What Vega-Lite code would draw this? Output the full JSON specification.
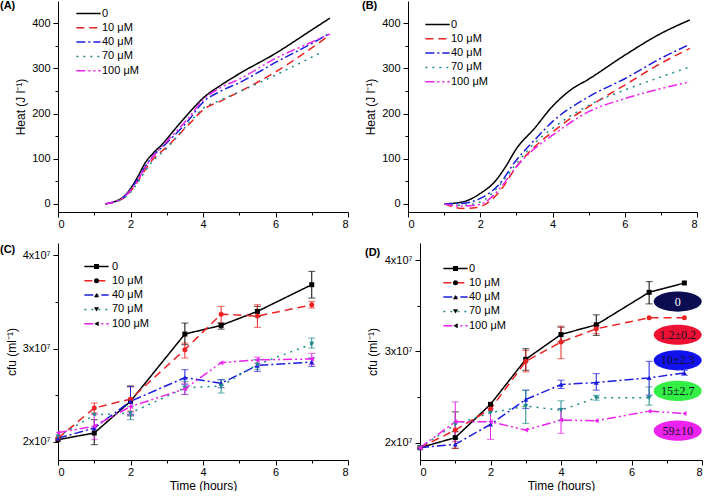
{
  "$schema": "https://vega.github.io/schema/vega-lite/v6.json",
  "padding": 0,
  "background": "white",
  "datasets": {
    "heatA": [
      {"t":1.3,"heat":0,"c":"0"},{"t":1.8,"heat":15,"c":"0"},{"t":2.0,"heat":34,"c":"0"},{"t":2.2,"heat":60,"c":"0"},{"t":2.4,"heat":90,"c":"0"},{"t":2.6,"heat":110,"c":"0"},{"t":2.9,"heat":134,"c":"0"},{"t":3.2,"heat":163,"c":"0"},{"t":3.6,"heat":200,"c":"0"},{"t":4.0,"heat":234,"c":"0"},{"t":4.5,"heat":263,"c":"0"},{"t":5.0,"heat":288,"c":"0"},{"t":6.0,"heat":333,"c":"0"},{"t":7.0,"heat":385,"c":"0"},{"t":7.5,"heat":411,"c":"0"},
      {"t":1.3,"heat":0,"c":"10 μM"},{"t":1.8,"heat":12,"c":"10 μM"},{"t":2.0,"heat":28,"c":"10 μM"},{"t":2.2,"heat":50,"c":"10 μM"},{"t":2.4,"heat":75,"c":"10 μM"},{"t":2.6,"heat":97,"c":"10 μM"},{"t":3.0,"heat":126,"c":"10 μM"},{"t":3.6,"heat":175,"c":"10 μM"},{"t":4.0,"heat":208,"c":"10 μM"},{"t":4.5,"heat":228,"c":"10 μM"},{"t":5.0,"heat":248,"c":"10 μM"},{"t":6.0,"heat":292,"c":"10 μM"},{"t":7.0,"heat":345,"c":"10 μM"},{"t":7.4,"heat":368,"c":"10 μM"},
      {"t":1.3,"heat":0,"c":"40 μM"},{"t":1.8,"heat":14,"c":"40 μM"},{"t":2.0,"heat":32,"c":"40 μM"},{"t":2.2,"heat":55,"c":"40 μM"},{"t":2.4,"heat":82,"c":"40 μM"},{"t":2.6,"heat":104,"c":"40 μM"},{"t":3.0,"heat":135,"c":"40 μM"},{"t":3.6,"heat":185,"c":"40 μM"},{"t":4.0,"heat":225,"c":"40 μM"},{"t":4.5,"heat":250,"c":"40 μM"},{"t":5.0,"heat":268,"c":"40 μM"},{"t":6.0,"heat":313,"c":"40 μM"},{"t":7.0,"heat":355,"c":"40 μM"},{"t":7.5,"heat":378,"c":"40 μM"},
      {"t":1.3,"heat":0,"c":"70 μM"},{"t":1.8,"heat":12,"c":"70 μM"},{"t":2.0,"heat":26,"c":"70 μM"},{"t":2.2,"heat":47,"c":"70 μM"},{"t":2.4,"heat":72,"c":"70 μM"},{"t":2.6,"heat":93,"c":"70 μM"},{"t":3.0,"heat":123,"c":"70 μM"},{"t":3.6,"heat":178,"c":"70 μM"},{"t":4.0,"heat":211,"c":"70 μM"},{"t":4.5,"heat":230,"c":"70 μM"},{"t":5.0,"heat":248,"c":"70 μM"},{"t":6.0,"heat":285,"c":"70 μM"},{"t":7.3,"heat":337,"c":"70 μM"},
      {"t":1.3,"heat":0,"c":"100 μM"},{"t":1.8,"heat":14,"c":"100 μM"},{"t":2.0,"heat":30,"c":"100 μM"},{"t":2.2,"heat":52,"c":"100 μM"},{"t":2.4,"heat":80,"c":"100 μM"},{"t":2.6,"heat":103,"c":"100 μM"},{"t":3.0,"heat":138,"c":"100 μM"},{"t":3.6,"heat":190,"c":"100 μM"},{"t":4.0,"heat":230,"c":"100 μM"},{"t":4.5,"heat":258,"c":"100 μM"},{"t":5.0,"heat":276,"c":"100 μM"},{"t":6.0,"heat":322,"c":"100 μM"},{"t":7.0,"heat":358,"c":"100 μM"},{"t":7.5,"heat":376,"c":"100 μM"}
    ],
    "heatB": [
      {"t":1.0,"heat":0,"c":"0"},{"t":1.5,"heat":4,"c":"0"},{"t":2.0,"heat":23,"c":"0"},{"t":2.4,"heat":49,"c":"0"},{"t":2.7,"heat":82,"c":"0"},{"t":3.0,"heat":122,"c":"0"},{"t":3.5,"heat":167,"c":"0"},{"t":4.0,"heat":216,"c":"0"},{"t":4.5,"heat":252,"c":"0"},{"t":5.0,"heat":276,"c":"0"},{"t":6.0,"heat":329,"c":"0"},{"t":7.0,"heat":377,"c":"0"},{"t":7.8,"heat":407,"c":"0"},
      {"t":1.0,"heat":0,"c":"10 μM"},{"t":1.5,"heat":-10,"c":"10 μM"},{"t":1.9,"heat":-8,"c":"10 μM"},{"t":2.3,"heat":8,"c":"10 μM"},{"t":2.6,"heat":34,"c":"10 μM"},{"t":3.0,"heat":82,"c":"10 μM"},{"t":3.5,"heat":126,"c":"10 μM"},{"t":4.0,"heat":159,"c":"10 μM"},{"t":4.5,"heat":189,"c":"10 μM"},{"t":5.0,"heat":215,"c":"10 μM"},{"t":6.0,"heat":263,"c":"10 μM"},{"t":7.0,"heat":311,"c":"10 μM"},{"t":7.8,"heat":344,"c":"10 μM"},
      {"t":1.0,"heat":0,"c":"40 μM"},{"t":1.5,"heat":1,"c":"40 μM"},{"t":2.0,"heat":12,"c":"40 μM"},{"t":2.5,"heat":41,"c":"40 μM"},{"t":3.0,"heat":97,"c":"40 μM"},{"t":3.5,"heat":141,"c":"40 μM"},{"t":4.0,"heat":182,"c":"40 μM"},{"t":5.0,"heat":237,"c":"40 μM"},{"t":6.0,"heat":277,"c":"40 μM"},{"t":7.0,"heat":322,"c":"40 μM"},{"t":7.8,"heat":353,"c":"40 μM"},
      {"t":1.0,"heat":0,"c":"70 μM"},{"t":1.5,"heat":-3,"c":"70 μM"},{"t":2.0,"heat":4,"c":"70 μM"},{"t":2.5,"heat":38,"c":"70 μM"},{"t":3.0,"heat":89,"c":"70 μM"},{"t":3.5,"heat":134,"c":"70 μM"},{"t":4.0,"heat":167,"c":"70 μM"},{"t":5.0,"heat":218,"c":"70 μM"},{"t":6.0,"heat":252,"c":"70 μM"},{"t":7.0,"heat":281,"c":"70 μM"},{"t":7.8,"heat":303,"c":"70 μM"},
      {"t":1.0,"heat":0,"c":"100 μM"},{"t":1.5,"heat":-5,"c":"100 μM"},{"t":2.0,"heat":-1,"c":"100 μM"},{"t":2.5,"heat":30,"c":"100 μM"},{"t":3.0,"heat":82,"c":"100 μM"},{"t":3.5,"heat":122,"c":"100 μM"},{"t":4.0,"heat":152,"c":"100 μM"},{"t":5.0,"heat":204,"c":"100 μM"},{"t":6.0,"heat":233,"c":"100 μM"},{"t":7.0,"heat":255,"c":"100 μM"},{"t":7.8,"heat":270,"c":"100 μM"}
    ],
    "cfuC": [
      {"t":0,"cfu":2.025e7,"c":"0"},{"t":1,"cfu":2.096e7,"lo":1.971e7,"hi":2.239e7,"c":"0"},{"t":2,"cfu":2.436e7,"lo":2.28e7,"hi":2.6e7,"c":"0"},{"t":3.5,"cfu":3.157e7,"lo":3.043e7,"hi":3.275e7,"c":"0"},{"t":4.5,"cfu":3.25e7,"lo":3.21e7,"hi":3.275e7,"c":"0"},{"t":5.5,"cfu":3.4e7,"lo":3.346e7,"hi":3.454e7,"c":"0"},{"t":7,"cfu":3.686e7,"lo":3.543e7,"hi":3.829e7,"c":"0"},
      {"t":0,"cfu":2.04e7,"c":"10 μM"},{"t":1,"cfu":2.364e7,"lo":2.311e7,"hi":2.418e7,"c":"10 μM"},{"t":2,"cfu":2.46e7,"lo":2.33e7,"hi":2.59e7,"c":"10 μM"},{"t":3.5,"cfu":2.99e7,"lo":2.9e7,"hi":3.06e7,"c":"10 μM"},{"t":4.5,"cfu":3.37e7,"lo":3.275e7,"hi":3.454e7,"c":"10 μM"},{"t":5.5,"cfu":3.35e7,"lo":3.229e7,"hi":3.471e7,"c":"10 μM"},{"t":7,"cfu":3.47e7,"lo":3.436e7,"hi":3.507e7,"c":"10 μM"},
      {"t":0,"cfu":2.04e7,"c":"40 μM"},{"t":1,"cfu":2.15e7,"c":"40 μM"},{"t":2,"cfu":2.436e7,"lo":2.293e7,"hi":2.596e7,"c":"40 μM"},{"t":3.5,"cfu":2.69e7,"lo":2.614e7,"hi":2.775e7,"c":"40 μM"},{"t":4.5,"cfu":2.63e7,"lo":2.582e7,"hi":2.668e7,"c":"40 μM"},{"t":5.5,"cfu":2.82e7,"lo":2.757e7,"hi":2.882e7,"c":"40 μM"},{"t":7,"cfu":2.857e7,"lo":2.81e7,"hi":2.9e7,"c":"40 μM"},
      {"t":0,"cfu":2.06e7,"c":"70 μM"},{"t":1,"cfu":2.29e7,"c":"70 μM"},{"t":2,"cfu":2.31e7,"lo":2.239e7,"hi":2.382e7,"c":"70 μM"},{"t":3.5,"cfu":2.58e7,"lo":2.51e7,"hi":2.65e7,"c":"70 μM"},{"t":4.5,"cfu":2.6e7,"lo":2.525e7,"hi":2.667e7,"c":"70 μM"},{"t":5.5,"cfu":2.83e7,"lo":2.78e7,"hi":2.88e7,"c":"70 μM"},{"t":7,"cfu":3.05e7,"lo":3.007e7,"hi":3.114e7,"c":"70 μM"},
      {"t":0,"cfu":2.1e7,"c":"100 μM"},{"t":1,"cfu":2.17e7,"lo":2.025e7,"hi":2.293e7,"c":"100 μM"},{"t":2,"cfu":2.38e7,"lo":2.31e7,"hi":2.45e7,"c":"100 μM"},{"t":3.5,"cfu":2.57e7,"lo":2.51e7,"hi":2.63e7,"c":"100 μM"},{"t":4.5,"cfu":2.85e7,"c":"100 μM"},{"t":5.5,"cfu":2.88e7,"lo":2.84e7,"hi":2.91e7,"c":"100 μM"},{"t":7,"cfu":2.89e7,"lo":2.83e7,"hi":2.95e7,"c":"100 μM"}
    ],
    "cfuD": [
      {"t":0,"cfu":1.945e7,"c":"0"},{"t":1,"cfu":2.055e7,"lo":1.938e7,"hi":2.12e7,"c":"0"},{"t":2,"cfu":2.42e7,"c":"0"},{"t":3,"cfu":2.913e7,"lo":2.793e7,"hi":3.029e7,"c":"0"},{"t":4,"cfu":3.185e7,"lo":3.102e7,"hi":3.265e7,"c":"0"},{"t":5,"cfu":3.291e7,"lo":3.175e7,"hi":3.4e7,"c":"0"},{"t":6.5,"cfu":3.647e7,"lo":3.52e7,"hi":3.764e7,"c":"0"},{"t":7.5,"cfu":3.749e7,"c":"0"},
      {"t":0,"cfu":1.945e7,"c":"10 μM"},{"t":1,"cfu":2.138e7,"lo":1.938e7,"hi":2.338e7,"c":"10 μM"},{"t":2,"cfu":2.367e7,"c":"10 μM"},{"t":3,"cfu":2.891e7,"lo":2.775e7,"hi":3.011e7,"c":"10 μM"},{"t":4,"cfu":3.102e7,"lo":2.92e7,"hi":3.276e7,"c":"10 μM"},{"t":5,"cfu":3.247e7,"lo":3.193e7,"hi":3.284e7,"c":"10 μM"},{"t":6.5,"cfu":3.367e7,"c":"10 μM"},{"t":7.5,"cfu":3.367e7,"c":"10 μM"},
      {"t":0,"cfu":1.945e7,"c":"40 μM"},{"t":1,"cfu":1.982e7,"c":"40 μM"},{"t":2,"cfu":2.2e7,"c":"40 μM"},{"t":3,"cfu":2.473e7,"lo":2.375e7,"hi":2.575e7,"c":"40 μM"},{"t":4,"cfu":2.636e7,"lo":2.593e7,"hi":2.684e7,"c":"40 μM"},{"t":5,"cfu":2.658e7,"lo":2.575e7,"hi":2.756e7,"c":"40 μM"},{"t":6.5,"cfu":2.709e7,"lo":2.52e7,"hi":2.891e7,"c":"40 μM"},{"t":7.5,"cfu":2.764e7,"lo":2.738e7,"hi":2.793e7,"c":"40 μM"},
      {"t":0,"cfu":1.945e7,"c":"70 μM"},{"t":1,"cfu":2.2e7,"lo":2.047e7,"hi":2.338e7,"c":"70 μM"},{"t":2,"cfu":2.327e7,"c":"70 μM"},{"t":3,"cfu":2.4e7,"lo":2.211e7,"hi":2.575e7,"c":"70 μM"},{"t":4,"cfu":2.356e7,"lo":2.247e7,"hi":2.458e7,"c":"70 μM"},{"t":5,"cfu":2.491e7,"lo":2.465e7,"hi":2.52e7,"c":"70 μM"},{"t":6.5,"cfu":2.491e7,"lo":2.411e7,"hi":2.611e7,"c":"70 μM"},
      {"t":0,"cfu":1.945e7,"c":"100 μM"},{"t":1,"cfu":2.229e7,"lo":2.011e7,"hi":2.447e7,"c":"100 μM"},{"t":2,"cfu":2.229e7,"lo":2.036e7,"hi":2.375e7,"c":"100 μM"},{"t":3,"cfu":2.138e7,"c":"100 μM"},{"t":4,"cfu":2.247e7,"lo":2.102e7,"hi":2.375e7,"c":"100 μM"},{"t":5,"cfu":2.24e7,"c":"100 μM"},{"t":6.5,"cfu":2.345e7,"c":"100 μM"},{"t":7.5,"cfu":2.32e7,"c":"100 μM"}
    ],
    "ell": [
      {"t":7.31,"cfu":3.545e7,"label":"0"},
      {"t":7.31,"cfu":3.182e7,"label":"1.2±0.2"},
      {"t":7.31,"cfu":2.902e7,"label":"10±2.3"},
      {"t":7.31,"cfu":2.567e7,"label":"15±2.7"},
      {"t":7.31,"cfu":2.131e7,"label":"59±10"}
    ]
  },
  "resolve": {"scale": {"color": "independent", "strokeDash": "independent", "fill": "independent", "shape": "independent"}},
  "vconcat": [
    {
      "resolve": {"scale": {"color": "independent", "strokeDash": "independent", "fill": "independent", "shape": "independent"}},
      "hconcat": [
        {
          "width": 290, "height": 211,
          "title": {"text": "(A)", "dx": -58, "offset": -10},
          "data": {"name": "heatA"},
          "mark": {"type": "line", "strokeWidth": 1.5, "interpolate": "monotone"},
          "encoding": {
            "x": {"field": "t", "type": "quantitative", "scale": {"domain": [0, 8], "nice": false},
                  "axis": {"title": null, "labelPadding": 1, "values": [0,1,2,3,4,5,6,7,8], "labelExpr": "datum.value % 2 ? '' : datum.label", "tickSize": {"condition": {"test": "datum.value % 2 == 1", "value": 3}, "value": 5}}},
            "y": {"field": "heat", "type": "quantitative", "scale": {"domain": [-18, 449], "nice": false, "zero": false},
                  "axis": {"title": "Heat (J l⁻¹)", "titlePadding": 4, "values": [0,50,100,150,200,250,300,350,400], "labelExpr": "datum.value % 100 ? '' : datum.label", "tickSize": {"condition": {"test": "datum.value % 100 != 0", "value": 3}, "value": 5}}},
            "color": {"field": "c", "type": "nominal", "scale": {"domain": ["0","10 μM","40 μM","70 μM","100 μM"], "range": ["#000000","#ee2222","#1c1cdd","#1f8a8a","#ee22ee"]},
                      "legend": {"orient": "none", "legendX": 25, "legendY": 7, "labelOffset": 8}},
            "strokeDash": {"field": "c", "type": "nominal", "scale": {"domain": ["0","10 μM","40 μM","70 μM","100 μM"], "range": [[1,0],[8,5],[9,3,2,3],[2,5],[9,3,2,3,2,3]]},
                      "legend": {"orient": "none", "legendX": 25, "legendY": 7, "labelOffset": 8}}
          }
        },
        {
          "width": 289, "height": 211,
          "title": {"text": "(B)", "dx": -46, "offset": -10},
          "data": {"name": "heatB"},
          "mark": {"type": "line", "strokeWidth": 1.5, "interpolate": "monotone"},
          "encoding": {
            "x": {"field": "t", "type": "quantitative", "scale": {"domain": [0, 8], "nice": false},
                  "axis": {"title": null, "labelPadding": 1, "values": [0,1,2,3,4,5,6,7,8], "labelExpr": "datum.value % 2 ? '' : datum.label", "tickSize": {"condition": {"test": "datum.value % 2 == 1", "value": 3}, "value": 5}}},
            "y": {"field": "heat", "type": "quantitative", "scale": {"domain": [-18, 449], "nice": false, "zero": false},
                  "axis": {"title": "Heat (J l⁻¹)", "titlePadding": 4, "values": [0,50,100,150,200,250,300,350,400], "labelExpr": "datum.value % 100 ? '' : datum.label", "tickSize": {"condition": {"test": "datum.value % 100 != 0", "value": 3}, "value": 5}}},
            "color": {"field": "c", "type": "nominal", "scale": {"domain": ["0","10 μM","40 μM","70 μM","100 μM"], "range": ["#000000","#ee2222","#1c1cdd","#1f8a8a","#ee22ee"]},
                      "legend": {"orient": "none", "legendX": 24, "legendY": 18, "labelOffset": 8}},
            "strokeDash": {"field": "c", "type": "nominal", "scale": {"domain": ["0","10 μM","40 μM","70 μM","100 μM"], "range": [[1,0],[8,5],[9,3,2,3],[2,5],[9,3,2,3,2,3]]},
                      "legend": {"orient": "none", "legendX": 24, "legendY": 18, "labelOffset": 8}}
          }
        }
      ],
      "spacing": 60,
      "bounds": "flush"
    },
    {
      "resolve": {"scale": {"color": "independent", "strokeDash": "independent", "fill": "independent", "shape": "independent"}},
      "hconcat": [
        {
          "width": 290, "height": 217,
          "title": {"text": "(C)", "dx": -58, "offset": -12},
          "data": {"name": "cfuC"},
          "encoding": {
            "x": {"field": "t", "type": "quantitative", "scale": {"domain": [0, 8], "nice": false},
                  "axis": {"title": "Time (hours)", "titlePadding": 3, "labelPadding": 1, "values": [0,1,2,3,4,5,6,7,8], "labelExpr": "datum.value % 2 ? '' : datum.label", "tickSize": {"condition": {"test": "datum.value % 2 == 1", "value": 3}, "value": 5}}},
            "y": {"field": "cfu", "type": "quantitative", "scale": {"domain": [1.807e7, 4.133e7], "nice": false, "zero": false},
                  "axis": {"title": "cfu (ml⁻¹)", "titlePadding": 4, "values": [2e7, 2.5e7, 3e7, 3.5e7, 4e7], "labelExpr": "datum.value % 10000000 ? '' : format(datum.value / 10000000, 'd') + 'x10⁷'", "tickSize": {"condition": {"test": "datum.value % 10000000 != 0", "value": 3}, "value": 5}}}
          },
          "layer": [
            {
              "mark": {"type": "line", "strokeWidth": 1.5},
              "encoding": {
                "color": {"field": "c", "type": "nominal", "scale": {"domain": ["0","10 μM","40 μM","70 μM","100 μM"], "range": ["#000000","#ee2222","#1c1cdd","#1f8a8a","#ee22ee"]},
                          "legend": {"orient": "none", "legendX": 33, "legendY": 18, "labelOffset": 10}},
                "strokeDash": {"field": "c", "type": "nominal", "scale": {"domain": ["0","10 μM","40 μM","70 μM","100 μM"], "range": [[1,0],[8,5],[9,3,2,3],[2,5],[9,3,2,3,2,3]]},
                          "legend": {"orient": "none", "legendX": 33, "legendY": 18, "labelOffset": 10}}
              }
            },
            {
              "transform": [{"filter": "isValid(datum.lo)"}],
              "mark": {"type": "errorbar", "ticks": {"size": 7, "thickness": 1}, "rule": {"strokeWidth": 1}},
              "encoding": {
                "y": {"field": "lo", "type": "quantitative"},
                "y2": {"field": "hi"},
                "color": {"field": "c", "type": "nominal", "legend": null}
              }
            },
            {
              "mark": {"type": "point", "filled": true, "size": 25, "opacity": 1},
              "encoding": {
                "fill": {"field": "c", "type": "nominal", "sort": ["0","10 μM","40 μM","70 μM","100 μM"], "scale": {"range": ["#000000","#ee2222","#1c1cdd","#1f8a8a","#ee22ee"]},
                         "legend": {"orient": "none", "legendX": 33, "legendY": 18, "labelOffset": 10, "symbolSize": 25, "labelOpacity": 0, "symbolStrokeWidth": 0}},
                "shape": {"field": "c", "type": "nominal", "sort": ["0","10 μM","40 μM","70 μM","100 μM"], "scale": {"range": ["square","circle","triangle-up","triangle-down","triangle-left"]},
                         "legend": {"orient": "none", "legendX": 33, "legendY": 18, "labelOffset": 10, "symbolSize": 25, "labelOpacity": 0, "symbolStrokeWidth": 0}}
              }
            }
          ]
        },
        {
          "width": 282, "height": 217,
          "title": {"text": "(D)", "dx": -55, "offset": -15},
          "data": {"name": "cfuD"},
          "encoding": {
            "x": {"field": "t", "type": "quantitative", "scale": {"domain": [0, 8], "nice": false},
                  "axis": {"title": "Time (hours)", "titlePadding": 3, "labelPadding": 1, "values": [0,1,2,3,4,5,6,7,8], "labelExpr": "datum.value % 2 ? '' : datum.label", "tickSize": {"condition": {"test": "datum.value % 2 == 1", "value": 3}, "value": 5}}},
            "y": {"field": "cfu", "type": "quantitative", "scale": {"domain": [1.81e7, 4.187e7], "nice": false, "zero": false},
                  "axis": {"title": "cfu (ml⁻¹)", "titlePadding": 5, "values": [2e7, 2.5e7, 3e7, 3.5e7, 4e7], "labelExpr": "datum.value % 10000000 ? '' : format(datum.value / 10000000, 'd') + 'x10⁷'", "tickSize": {"condition": {"test": "datum.value % 10000000 != 0", "value": 3}, "value": 5}}}
          },
          "layer": [
            {
              "mark": {"type": "line", "strokeWidth": 1.5},
              "encoding": {
                "color": {"field": "c", "type": "nominal", "scale": {"domain": ["0","10 μM","40 μM","70 μM","100 μM"], "range": ["#000000","#ee2222","#1c1cdd","#1f8a8a","#ee22ee"]},
                          "legend": {"orient": "none", "legendX": 30, "legendY": 20, "labelOffset": 8}},
                "strokeDash": {"field": "c", "type": "nominal", "scale": {"domain": ["0","10 μM","40 μM","70 μM","100 μM"], "range": [[1,0],[8,5],[9,3,2,3],[2,5],[9,3,2,3,2,3]]},
                          "legend": {"orient": "none", "legendX": 30, "legendY": 20, "labelOffset": 8}}
              }
            },
            {
              "transform": [{"filter": "isValid(datum.lo)"}],
              "mark": {"type": "errorbar", "ticks": {"size": 7, "thickness": 1}, "rule": {"strokeWidth": 1}},
              "encoding": {
                "y": {"field": "lo", "type": "quantitative"},
                "y2": {"field": "hi"},
                "color": {"field": "c", "type": "nominal", "legend": null}
              }
            },
            {
              "mark": {"type": "point", "filled": true, "size": 25, "opacity": 1},
              "encoding": {
                "fill": {"field": "c", "type": "nominal", "sort": ["0","10 μM","40 μM","70 μM","100 μM"], "scale": {"range": ["#000000","#ee2222","#1c1cdd","#1f8a8a","#ee22ee"]},
                         "legend": {"orient": "none", "legendX": 30, "legendY": 20, "labelOffset": 8, "symbolSize": 25, "labelOpacity": 0, "symbolStrokeWidth": 0}},
                "shape": {"field": "c", "type": "nominal", "sort": ["0","10 μM","40 μM","70 μM","100 μM"], "scale": {"range": ["square","circle","triangle-up","triangle-down","triangle-left"]},
                         "legend": {"orient": "none", "legendX": 30, "legendY": 20, "labelOffset": 8, "symbolSize": 25, "labelOpacity": 0, "symbolStrokeWidth": 0}}
              }
            },
            {
              "data": {"name": "ell"},
              "mark": {"type": "point", "shape": "M-1,0A1,0.42,0,1,0,1,0A1,0.42,0,1,0,-1,0Z", "size": 2300, "filled": true, "opacity": 1},
              "encoding": {
                "fill": {"condition": [
                  {"test": "datum.label == '0'", "value": "#0c0c50"},
                  {"test": "datum.label == '1.2±0.2'", "value": "#ee1133"},
                  {"test": "datum.label == '10±2.3'", "value": "#1212ee"},
                  {"test": "datum.label == '15±2.7'", "value": "#33ee44"}
                ], "value": "#ee22ee"}
              }
            },
            {
              "data": {"name": "ell"},
              "mark": {"type": "text", "font": "Liberation Serif", "fontSize": 12},
              "encoding": {
                "text": {"field": "label"},
                "color": {"condition": {"test": "datum.label == '0'", "value": "#ffffff"}, "value": "#111122"}
              }
            }
          ]
        }
      ],
      "spacing": 72,
      "bounds": "flush"
    }
  ],
  "spacing": 14,
  "config": {
    "font": "Liberation Sans",
    "view": {"stroke": null},
    "title": {"fontSize": 11, "fontWeight": "bold", "anchor": "start", "frame": "group", "font": "Liberation Sans"},
    "axis": {"grid": false, "domainColor": "#000000", "tickColor": "#000000", "labelColor": "#000000", "titleColor": "#000000", "labelFontSize": 11, "titleFontSize": 12, "titleFontWeight": "normal", "labelPadding": 3, "tickSize": 5, "labelFont": "Liberation Sans", "titleFont": "Liberation Sans"},
    "legend": {"title": null, "padding": 0, "rowPadding": 2.3, "labelFontSize": 11, "labelFont": "Liberation Sans", "labelColor": "#000000", "symbolType": "M-2.7,0H2.7", "symbolSize": 81, "symbolStrokeWidth": 1.5}
  }
}
